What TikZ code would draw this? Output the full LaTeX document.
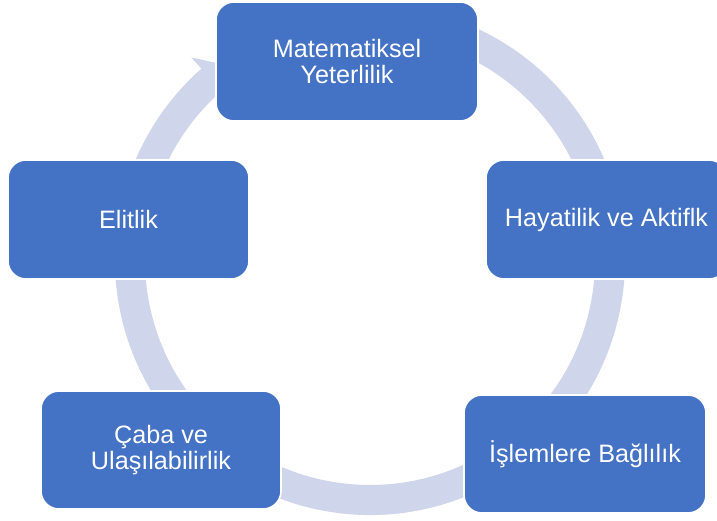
\documentclass[tikz,border=0pt]{standalone}
\usepackage{fontspec}
\setmainfont{Liberation Sans}
\definecolor{boxblue}{HTML}{4472C4}
\definecolor{ringblue}{HTML}{CFD5EA}
\tikzset{
  cyclebox/.style={rectangle, rounded corners=18pt, fill=boxblue, draw=white, line width=1.6pt,
    text=white, align=center, inner sep=0pt,
    font=\fontsize{25.2}{26.5}\selectfont},
  ringband/.style={fill=ringblue}
}
\begin{document}
\begin{tikzpicture}[x=1pt,y=1pt]
\useasboundingbox (0,0) rectangle (717,520);
\fill[white] (0,0) rectangle (717,520);
\clip (0,0) rectangle (717,520);
% continuous cycle ring with one arrowhead
\begin{scope}[shift={(370,260)}]
\fill[ringband] (80:255) arc[start angle=80, end angle=-228.6, radius=255]
  -- (-228.6:270) -- (-234:240) -- (-228.6:210) -- (-228.6:225)
  arc[start angle=-228.6, end angle=80, radius=225] -- cycle;
\end{scope}
% boxes
\node[cyclebox, minimum width=262pt, minimum height=119pt] (mat) at (347,458.5) {Matematiksel\\Yeterlilik};
\node[cyclebox, minimum width=241pt, minimum height=119pt] (hay) at (606.5,300.5) {Hayatilik ve Aktiflk};
\node[cyclebox, minimum width=242pt, minimum height=118pt] (isl) at (585,66) {İşlemlere Bağlılık};
\node[cyclebox, minimum width=240pt, minimum height=118pt] (cab) at (161,70) {Çaba ve\\Ulaşılabilirlik};
\node[cyclebox, minimum width=241pt, minimum height=119pt] (eli) at (128.5,300.5) {Elitlik};
\end{tikzpicture}
\end{document}
